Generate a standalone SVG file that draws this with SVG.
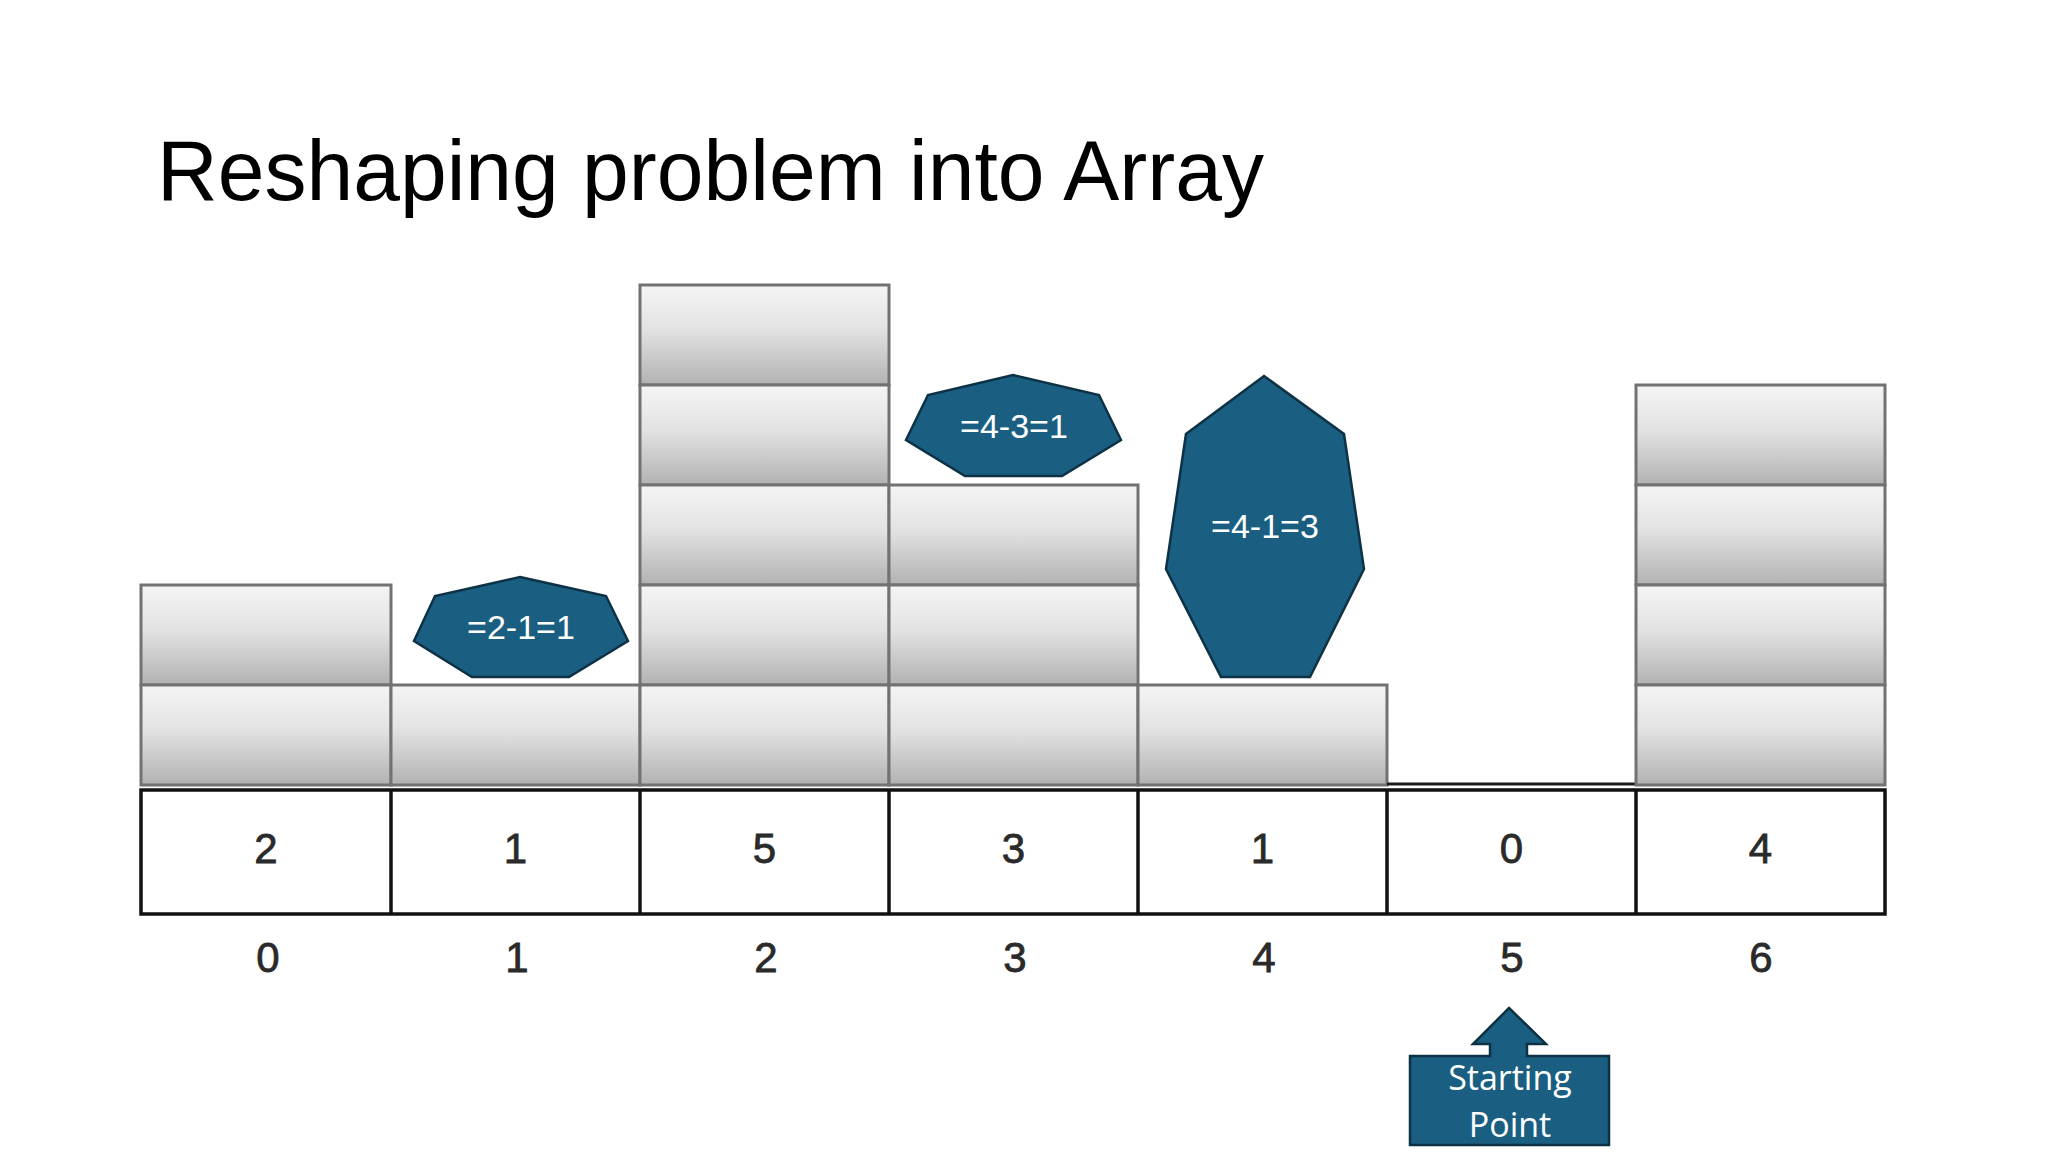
<svg xmlns="http://www.w3.org/2000/svg" width="2048" height="1152" viewBox="0 0 2048 1152">
  <defs>
    <linearGradient id="barGrad" x1="0" y1="0" x2="0" y2="1">
      <stop offset="0" stop-color="#f5f5f5"/>
      <stop offset="0.45" stop-color="#e2e2e2"/>
      <stop offset="1" stop-color="#b2b2b2"/>
    </linearGradient>
    <style>
      .cell { fill: url(#barGrad); stroke: #727272; stroke-width: 3; }
      .arr { fill: #ffffff; stroke: #111111; stroke-width: 3.5; }
      .val { font-family: "Liberation Sans", Arial, sans-serif; font-size: 42px; fill: #2a2a2a; stroke: #2a2a2a; stroke-width: 0.8; text-anchor: middle; }
      .shape { fill: #1a5f81; stroke: #0d3145; stroke-width: 2.5; stroke-linejoin: miter; }
      .lbl { font-family: "Liberation Sans", Arial, sans-serif; font-size: 34px; fill: #ffffff; text-anchor: middle; }
      .callout { font-family: "Open Sans", "Noto Sans", sans-serif; font-size: 34px; fill: #ffffff; text-anchor: middle; }
      .title { font-family: "Liberation Sans", Arial, sans-serif; font-size: 85px; fill: #000000; }
    </style>
  </defs>
  <rect width="2048" height="1152" fill="#ffffff"/>

  <text class="title" x="157" y="200" textLength="1107" lengthAdjust="spacingAndGlyphs">Reshaping problem into Array</text>

  <g id="bars">
    <!-- col 0: height 2 -->
    <rect class="cell" x="141" y="585" width="250" height="100"/>
    <rect class="cell" x="141" y="685" width="250" height="100"/>
    <!-- col 1: height 1 -->
    <rect class="cell" x="391" y="685" width="249" height="100"/>
    <!-- col 2: height 5 -->
    <rect class="cell" x="640" y="285" width="249" height="100"/>
    <rect class="cell" x="640" y="385" width="249" height="100"/>
    <rect class="cell" x="640" y="485" width="249" height="100"/>
    <rect class="cell" x="640" y="585" width="249" height="100"/>
    <rect class="cell" x="640" y="685" width="249" height="100"/>
    <!-- col 3: height 3 -->
    <rect class="cell" x="889" y="485" width="249" height="100"/>
    <rect class="cell" x="889" y="585" width="249" height="100"/>
    <rect class="cell" x="889" y="685" width="249" height="100"/>
    <!-- col 4: height 1 -->
    <rect class="cell" x="1138" y="685" width="249" height="100"/>
    <!-- col 5: height 0 -->
    <line x1="1387" y1="784" x2="1636" y2="784" stroke="#1a1a1a" stroke-width="3"/>
    <!-- col 6: height 4 -->
    <rect class="cell" x="1636" y="385" width="249" height="100"/>
    <rect class="cell" x="1636" y="485" width="249" height="100"/>
    <rect class="cell" x="1636" y="585" width="249" height="100"/>
    <rect class="cell" x="1636" y="685" width="249" height="100"/>
  </g>

  <g id="array">
    <rect class="arr" x="141" y="790" width="1744" height="124"/>
    <g stroke="#111111" stroke-width="3.5">
      <line x1="391" y1="790" x2="391" y2="914"/>
      <line x1="640" y1="790" x2="640" y2="914"/>
      <line x1="889" y1="790" x2="889" y2="914"/>
      <line x1="1138" y1="790" x2="1138" y2="914"/>
      <line x1="1387" y1="790" x2="1387" y2="914"/>
      <line x1="1636" y1="790" x2="1636" y2="914"/>
    </g>
    <text class="val" x="266" y="863">2</text>
    <text class="val" x="515.5" y="863">1</text>
    <text class="val" x="764.5" y="863">5</text>
    <text class="val" x="1013.5" y="863">3</text>
    <text class="val" x="1262.5" y="863">1</text>
    <text class="val" x="1511.5" y="863">0</text>
    <text class="val" x="1760.5" y="863">4</text>
  </g>

  <g id="indices">
    <text class="val" x="268" y="972">0</text>
    <text class="val" x="517" y="972">1</text>
    <text class="val" x="766" y="972">2</text>
    <text class="val" x="1015" y="972">3</text>
    <text class="val" x="1264" y="972">4</text>
    <text class="val" x="1512" y="972">5</text>
    <text class="val" x="1761" y="972">6</text>
  </g>

  <g id="water1">
    <polygon class="shape" points="520,577 606,596 628,641 569,677 472,677 414,641 435,596"/>
    <text class="lbl" x="521" y="639">=2-1=1</text>
  </g>

  <g id="water3">
    <polygon class="shape" points="1013,375 1099,395 1121,440 1062,476 965,476 906,440 928,395"/>
    <text class="lbl" x="1014" y="438">=4-3=1</text>
  </g>

  <g id="water4">
    <polygon class="shape" points="1264,376 1344,434 1364,569 1310,677 1221,677 1166,569 1186,434"/>
    <text class="lbl" x="1265" y="538">=4-1=3</text>
  </g>

  <g id="start">
    <polygon class="shape" points="1509,1008 1546,1044 1527,1044 1527,1056 1609,1056 1609,1145 1410,1145 1410,1056 1490,1056 1490,1044 1473,1044"/>
    <text class="callout" x="1510" y="1090">Starting</text>
    <text class="callout" x="1510" y="1137">Point</text>
  </g>
</svg>
